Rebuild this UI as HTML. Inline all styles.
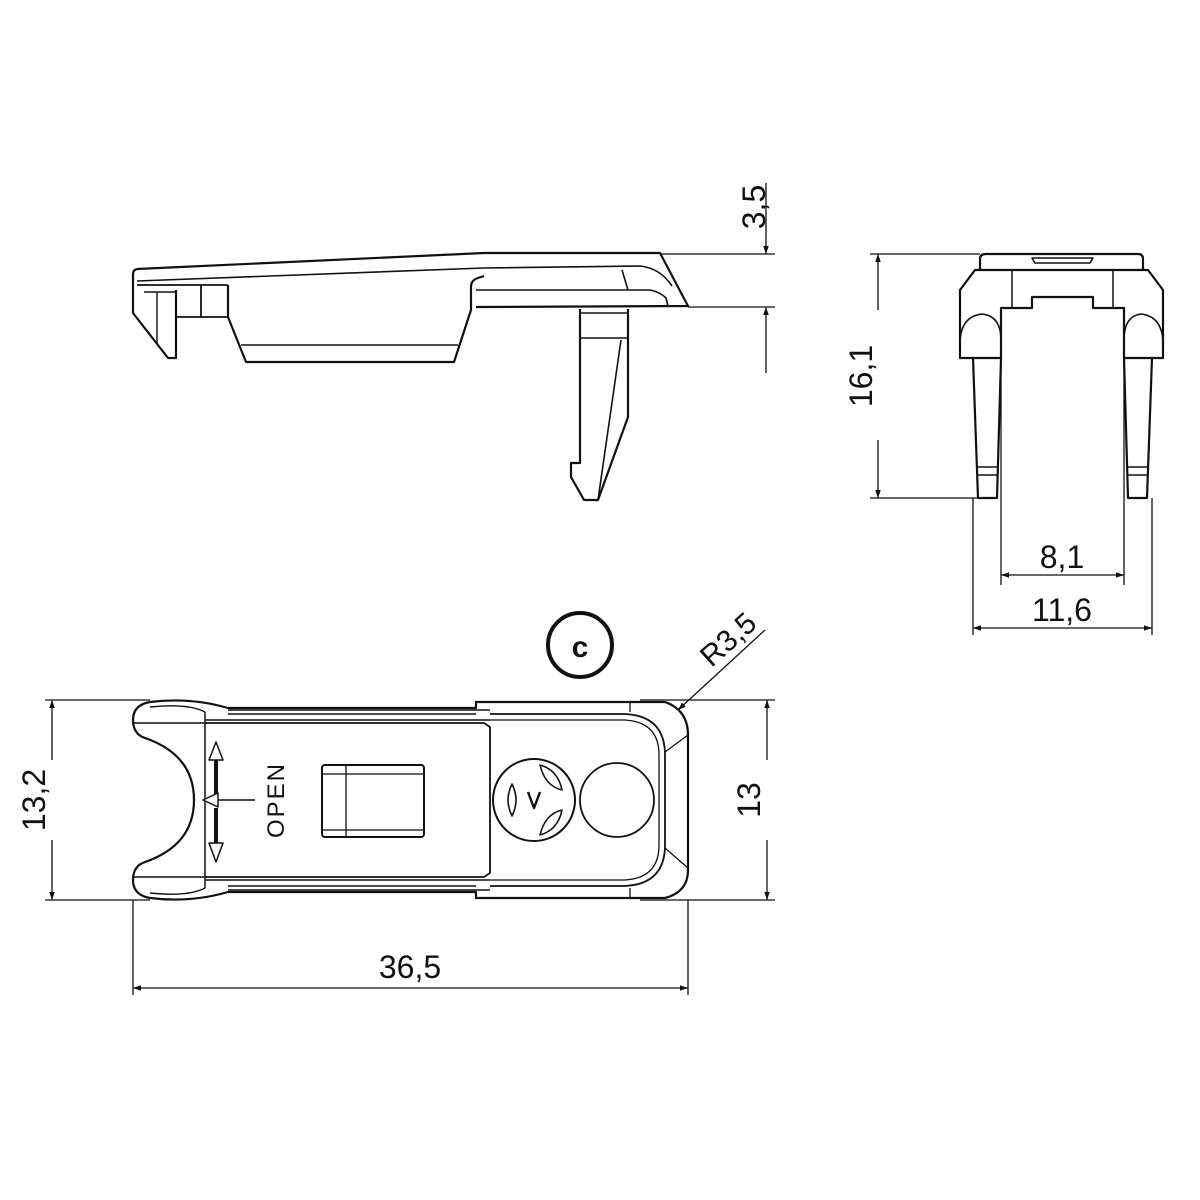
<!DOCTYPE html>
<html><head><meta charset="utf-8"><style>
html,body{margin:0;padding:0;background:#fff}
svg{display:block}
text{font-family:"Liberation Sans",sans-serif;fill:#111}
</style></head><body>
<svg width="1200" height="1200" viewBox="0 0 1200 1200" xmlns="http://www.w3.org/2000/svg">
<defs>
<marker id="a" viewBox="0 0 10 10" refX="10" refY="5" markerWidth="14" markerHeight="8" orient="auto-start-reverse" markerUnits="userSpaceOnUse"><path d="M0,1.5 L10,5 L0,8.5 z" fill="#111"/></marker>
</defs>
<g fill="none" stroke="#111" stroke-width="2.2" stroke-linejoin="round">
<!-- SIDE VIEW -->
<path d="M137,269 L484,253 L660,253 L688,306 L476,307"/>
<path d="M137,269 Q133,270 133,274 L133,313 L168,358 L176,358 L176,290"/>
<path d="M137,285 L228,285 M176,317 L228,317 M201,285 L201,317" stroke-width="1.8"/>
<path d="M228,285 L228,317 L246,362 L454,362 L471,310 L471,287 Q471,280 478,278 L484,276"/>
<path d="M137,281 L484,268 L640,266 Q660,268 672,286" stroke-width="1.6"/>
<path d="M144,292 L175,292 M157,292 L157,345" stroke-width="1.4"/>
<path d="M241,345 L458,345" stroke-width="1.5"/>
<path d="M476,290 L650,290 Q660,292 666,298 L668,306 M622,270 L628,290" stroke-width="1.6"/>
<path d="M580,309 L580,463 L571,463 L571,477 L584,500 L598,500 L628,417 L628,309"/>
<path d="M580,313 L628,313 M580,338 L628,338 M621,340 L598,500" stroke-width="1.6"/>
<g stroke-width="1.3">
<path d="M660,254 L775,254 M688,307 L775,307"/>
<path d="M766,183 L766,254" marker-end="url(#a)"/>
<path d="M766,373 L766,307" marker-end="url(#a)"/>
</g>

<!-- FRONT VIEW -->
<path d="M980,270 L980,259 Q980,254 986,254 L1138,254 Q1143,254 1143,259 L1143,270"/>
<path d="M1032,258 L1093,258 L1090,263 L1035,263 z" stroke-width="1.6"/>
<path d="M975,270 L1148,270 L1163,290 L1163,358 L1124,358 L1124,308 L1093,308 L1093,297 L1032,297 L1032,308 L1001,308 L1001,358 L960,358 L960,290 z"/>
<path d="M1012,270 L1012,308 M1113,270 L1113,308" stroke-width="1.5"/>
<path d="M960,340 Q962,316 982,314 Q1001,316 1001,340 M1163,340 Q1161,316 1141,314 Q1124,316 1124,340" stroke-width="1.6"/>
<path d="M973,358 L978,498 L997,498 L1001,358"/>
<path d="M1124,358 L1128,498 L1147,498 L1152,358"/>
<path d="M977,467 L998,467 M977,475 L998,475 M1127,467 L1149,467 M1127,475 L1149,475" stroke-width="1.5"/>
<g stroke-width="1.3">
<path d="M870,254 L980,254 M870,498 L978,498"/>
<path d="M878,310 L878,254" marker-end="url(#a)"/>
<path d="M878,440 L878,498" marker-end="url(#a)"/>
<path d="M1001,358 L1001,585 M1124,358 L1124,585"/>
<path d="M1040,575 L1001,575" marker-end="url(#a)"/>
<path d="M1040,575 L1124,575" marker-end="url(#a)"/>
<path d="M973,498 L973,635 M1152,498 L1152,635"/>
<path d="M1060,628 L973,628" marker-end="url(#a)"/>
<path d="M1060,628 L1152,628" marker-end="url(#a)"/>
</g>

<!-- TOP VIEW -->
<path d="M150,702 Q190,697 228,708 L476,708 L476,702 L665,702 Q688,710 688,735 L688,870 Q688,892 665,898 L476,898 L476,892 L228,892 Q190,903 150,898 Q133,895 133,880 Q133,866 145,862 Q194,845 194,800 Q194,755 145,738 Q133,734 133,720 Q133,705 150,702 z"/>
<path d="M150,707 Q188,703 205,712 M150,893 Q188,897 205,888" stroke-width="1.4"/>
<path d="M133,723 L205,723 M133,877 L205,877 M205,712 L205,888" stroke-width="1.5"/>
<path d="M228,710 L490,710 M228,714 L476,714 M205,720 L490,720 M205,880 L490,880 M228,886 L476,886 M228,890 L490,890" stroke-width="1.5"/>
<path d="M205,723 L484,723 L490,727 L490,873 L484,877 L205,877" stroke-width="1.8"/>
<path d="M490,714 L625,714 Q665,716 665,755 L665,845 Q665,884 625,886 L490,886" stroke-width="1.8"/>
<path d="M490,720 L625,720 Q659,722 659,755 L659,845 Q659,878 625,880 L490,880" stroke-width="1.3"/>
<path d="M630,702 L630,712 M688,735 L665,752 M688,868 L665,848 M630,888 L630,898" stroke-width="1.3"/>
<rect x="322" y="765" width="102" height="72" rx="3" stroke-width="2"/>
<path d="M346,765 L346,837 M322,774 L424,774 M322,830 L424,830" stroke-width="1.3"/>
<circle cx="534" cy="800" r="41" stroke-width="2"/>
<path d="M512,784 Q504,800 512,816 Q520,800 512,784 z M540,765 Q558,770 562,790 Q545,786 540,765 z M540,835 Q558,830 562,810 Q545,814 540,835 z" stroke-width="1.6"/>
<path d="M528,792 L534,808 L540,792" stroke-width="2.4"/>
<circle cx="617" cy="800" r="37" stroke-width="1.8"/>
<path d="M216,752 L216,795 M216,808 L216,850" stroke-width="4"/>
<path d="M209,760 L216,742 L223,760 z M209,843 L216,862 L223,843 z M218,793 L203,800 L218,807 z" fill="#fff" stroke-width="1.5"/>
<path d="M218,800 L255,800" stroke-width="1.5"/>
<g stroke-width="1.3">
<path d="M45,700 L150,700 M45,900 L150,900"/>
<path d="M52,760 L52,700" marker-end="url(#a)"/>
<path d="M52,840 L52,900" marker-end="url(#a)"/>
<path d="M640,700 L775,700 M640,900 L775,900"/>
<path d="M767,760 L767,700" marker-end="url(#a)"/>
<path d="M767,840 L767,900" marker-end="url(#a)"/>
<path d="M133,900 L133,995 M688,900 L688,995"/>
<path d="M410,988 L133,988" marker-end="url(#a)"/>
<path d="M410,988 L688,988" marker-end="url(#a)"/>
<path d="M765,630 L678,710" marker-end="url(#a)"/>
</g>
<circle cx="580" cy="645" r="32" stroke-width="4"/>
</g>
<text x="580" y="657" font-size="30" text-anchor="middle" font-weight="bold">c</text>
<text font-size="32" text-anchor="middle" transform="translate(765,207) rotate(-90)">3,5</text>
<text font-size="32" text-anchor="middle" transform="translate(872,376) rotate(-90)">16,1</text>
<text font-size="32" x="1062" y="568" text-anchor="middle">8,1</text>
<text font-size="32" x="1062" y="621" text-anchor="middle">11,6</text>
<text font-size="32" text-anchor="middle" transform="translate(45,800) rotate(-90)">13,2</text>
<text font-size="32" text-anchor="middle" transform="translate(760,800) rotate(-90)">13</text>
<text font-size="32" x="410" y="978" text-anchor="middle">36,5</text>
<text font-size="30" text-anchor="middle" transform="translate(735,647) rotate(-42)">R3,5</text>
<text font-size="24" letter-spacing="2" text-anchor="middle" transform="translate(284,800) rotate(-90)">OPEN</text>
</svg>
</body></html>
